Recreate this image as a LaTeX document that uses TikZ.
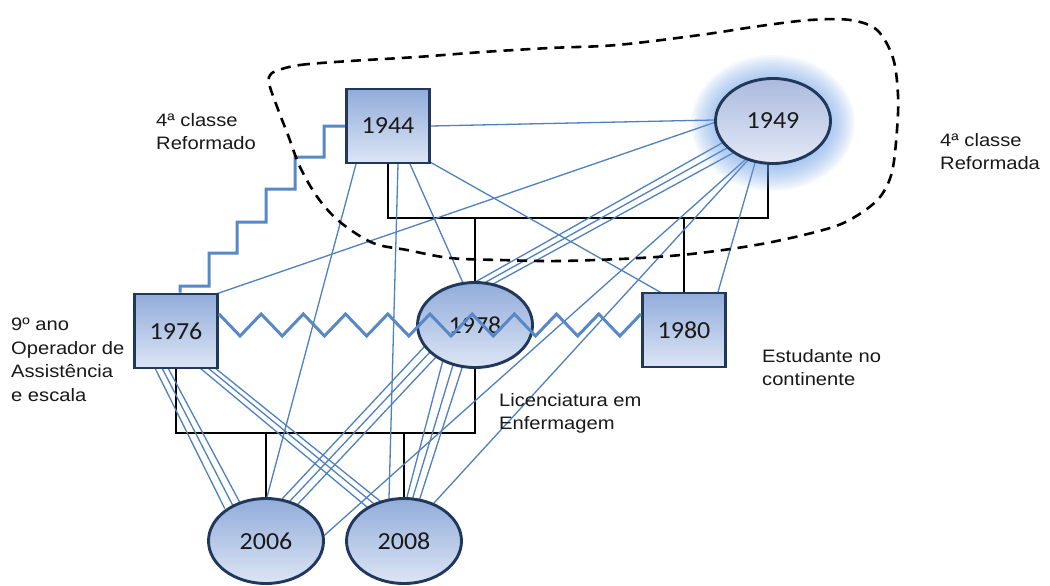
\documentclass[tikz,border=0pt]{standalone}
\usepackage{fontspec}
\setmainfont{Liberation Sans}
\newfontfamily\lblfont[FakeStretch=1.12]{Liberation Sans}
\newfontfamily\yearfont[FakeStretch=1.06]{Carlito}
\usetikzlibrary{calc,shapes.geometric}
\pgfdeclarelayer{links}
\pgfdeclarelayer{halo}
\pgfsetlayers{links,halo,main}

\definecolor{linkblue}{RGB}{79,129,189}
\definecolor{bondblue}{RGB}{88,136,198}
\definecolor{edgenavy}{RGB}{31,56,92}
\definecolor{filltop}{RGB}{146,172,218}
\definecolor{fillbot}{RGB}{220,229,245}
\definecolor{softtop}{RGB}{170,186,223}
\definecolor{softbot}{RGB}{228,233,245}
\definecolor{halocol}{RGB}{110,162,232}
\definecolor{ink}{RGB}{25,25,25}

\begin{document}
\begin{tikzpicture}[x=1pt,y=-1pt,
  person/.style={draw=edgenavy, line width=2.9pt, top color=filltop, bottom color=fillbot,
    text=ink, font=\yearfont\fontsize{24.5}{28}\selectfont, inner sep=0pt},
  male/.style={person, rectangle, minimum width=83pt, minimum height=74pt},
  female/.style={person, ellipse, minimum width=115pt, minimum height=85pt},
  note/.style={anchor=north west, inner sep=0pt, align=left, text=ink,
    font=\lblfont\fontsize{18}{23.5}\selectfont},
  kin/.style={black, line width=2.2pt},
  link/.style={linkblue, line width=1.3pt, shorten <=-4pt, shorten >=-4pt},
  bond/.style={bondblue, line width=3pt},
  boundary/.style={black, line width=2.6pt, dash pattern=on 10pt off 7pt},
]
\useasboundingbox (0,0) rectangle (1050,586);

% people
\node[male] (n1944) at (388,126) {1944};
\node[female, top color=softtop, bottom color=softbot] (n1949) at (773,121) {1949};
\node[male] (n1976) at (176,331) {1976};
\node[female] (n1978) at (475,325) {1978};
\node[male] (n1980) at (684,330) {1980};
\node[female] (n2006) at (266,541) {2006};
\node[female] (n2008) at (404,541) {2008};

% notes
\node[note] (t1944) at (156,113) {4ª classe\\Reformado};
\node[note] (t1949) at (940,133) {4ª classe\\Reformada};
\node[note] (t1976) at (11,318) {9º ano\\Operador de\\Assistência\\e escala};
\node[note] (t1980) at (762,349) {Estudante no\\continente};
\node[note] (t1978) at (499,393) {Licenciatura em\\Enfermagem};

% soft glow around 1949
\begin{pgfonlayer}{halo}
  \foreach \r in {0,2,...,24}
    \fill[halocol, opacity=0.06] ($(n1949.center)+(0,2)$)
      ellipse[x radius={(58+\r)*1pt}, y radius={(44+\r)*1pt}];
\end{pgfonlayer}

\begin{pgfonlayer}{links}
  \fill[white] (0,0) rectangle (1050,586);
  % family lines
  \coordinate (u1) at (580,218);
  \coordinate (u2) at (320,433);
  \draw[kin] (n1944.south) |- (u1) -| ($(n1949.south)+(-5,0)$);
  \draw[kin] (u1 -| n1978.north) -- (n1978.north);
  \draw[kin] (u1 -| n1980.north) -- (n1980.north);
  \draw[kin] (n1976.south) |- (u2) -| (n1978.south);
  \draw[kin] (u2 -| n2006.north) -- (n2006.north);
  \draw[kin] (u2 -| n2008.north) -- (n2008.north);

  % relations from 1944
  \draw[link] (n1944.east) -- ($(n1949.west)+(0,-1)$);
  \draw[link] ($(n1944.center)+(-32,38)$) -- ($(n2006.center)+(1,-44)$);
  \draw[link] ($(n1944.center)+(10,38)$) -- ($(n2008.center)+(-15,-43)$);
  \draw[link] ($(n1944.center)+(22,38)$) -- ($(n1978.center)+(-12,-42)$);
  \draw[link] ($(n1944.center)+(42,36)$) -- ($(n1980.center)+(-24,-38)$);

  % relations from 1949
  \draw[link] ($(n1949.center)+(-60,2)$) -- ($(n1976.center)+(43,-38)$);
  \draw[link] ($(n1949.center)+(-51,22)$) -- ($(n1978.center)+(2,-44)$);
  \draw[link] ($(n1949.center)+(-46,27)$) -- ($(n1978.center)+(11,-43)$);
  \draw[link] ($(n1949.center)+(-40,32)$) -- ($(n1978.center)+(20,-42)$);
  \draw[link] ($(n1949.center)+(-28,39)$) -- ($(n2006.center)+(61,-8)$);
  \draw[link] ($(n1949.center)+(-25,39)$) -- ($(n2008.center)+(30,-38)$);
  \draw[link] ($(n1949.center)+(-18,42)$) -- ($(n1980.center)+(34,-38)$);

  % relations from 1976
  \draw[link] ($(n1976.center)+(-21,37)$) -- ($(n2006.center)+(-43,-36)$);
  \draw[link] ($(n1976.center)+(-14,37)$) -- ($(n2006.center)+(-35,-39)$);
  \draw[link] ($(n1976.center)+(-8,37)$) -- ($(n2006.center)+(-28,-42)$);
  \draw[link] ($(n1976.center)+(24,37)$) -- ($(n2008.center)+(-37,-34)$);
  \draw[link] ($(n1976.center)+(32,37)$) -- ($(n2008.center)+(-31,-38)$);
  \draw[link] ($(n1976.center)+(39,37)$) -- ($(n2008.center)+(-24,-40)$);

  % relations from 1978
  \draw[link] ($(n1978.center)+(-50,21)$) -- ($(n2006.center)+(16,-42)$);
  \draw[link] ($(n1978.center)+(-44,26)$) -- ($(n2006.center)+(24,-40)$);
  \draw[link] ($(n1978.center)+(-38,31)$) -- ($(n2006.center)+(32,-37)$);
  \draw[link] ($(n1978.center)+(-32,35)$) -- ($(n2008.center)+(3,-44)$);
  \draw[link] ($(n1978.center)+(-22,40)$) -- ($(n2008.center)+(9,-44)$);
  \draw[link] ($(n1978.center)+(-13,43)$) -- ($(n2008.center)+(16,-43)$);
\end{pgfonlayer}

% stepped bond 1944 - 1976
\draw[bond] (n1944.west) -- ++(-21,0) -- ++(0,31) -- ++(-29,0) -- ++(0,32)
  -- ++(-29,0) -- ++(0,33) -- ++(-29,0) -- ++(0,31) -- ++(-28,0) -- ++(0,33)
  -- ++(-29,0) -- ($(n1976.north)+(4,0)$);

% zigzag bond 1976 - 1978 - 1980
\draw[bond] ($(n1976.east)+(0,-17)$)
  foreach \k in {1,...,10} { -- ++(21.1,22) -- ++(21.1,-22) };

% household boundary
\draw[boundary] plot[smooth cycle, tension=0.55] coordinates {
  (276,71) (300,65) (350,61) (417,57) (483,52) (550,48) (617,45) (700,35)
  (760,26) (810,20) (850,20) (877,30) (893,58) (898,95) (897,130) (892,172)
  (880,197) (858,215) (830,228) (767,243) (700,253) (640,258) (560,261)
  (500,260) (450,258) (407,250) (373,243) (340,222) (318,198) (300,167)
  (288,135) (279,112) (270,87) (269,77)};
\end{tikzpicture}
\end{document}
